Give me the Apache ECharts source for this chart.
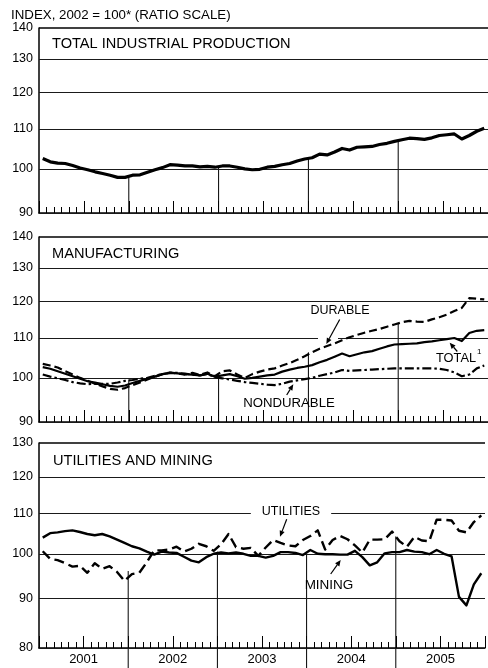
<!DOCTYPE html>
<html><head><meta charset="utf-8">
<script src="https://cdn.jsdelivr.net/npm/echarts@6/dist/echarts.min.js"></script>
<style>html,body{margin:0;padding:0;background:#fff}#c{width:488px;height:668px}</style>
</head><body><div id="c"></div>
<script>
// ---- data (monthly, Jan 2001 .. Dec 2005) ----
const years = ['2001', '2002', '2003', '2004', '2005'];
const yTicksTop = [90, 100, 110, 120, 130, 140];
const yTicksBottom = [80, 90, 100, 110, 120, 130];
const yearBounds = [12, 24, 36, 48];

const totalIP = [102.5,101.7,101.4,101.3,100.8,100.2,99.8,99.3,98.9,98.5,98.0,98.0,
  98.5,98.6,99.2,99.8,100.3,101.0,100.9,100.7,100.7,100.5,100.6,100.4,
  100.7,100.7,100.4,100.0,99.8,99.9,100.4,100.6,101.0,101.3,101.9,102.4,
  102.7,103.6,103.4,104.1,105.0,104.6,105.3,105.4,105.5,106.0,106.3,106.8,
  107.2,107.6,107.5,107.3,107.7,108.3,108.5,108.7,107.4,108.3,109.4,110.2];

const durable = [103.4,103.0,102.5,101.6,100.8,100.0,99.3,98.6,98.0,97.4,97.2,97.6,
  98.3,98.9,99.6,100.3,100.9,101.3,101.1,100.8,101.2,100.7,101.3,100.4,
  101.6,101.8,100.8,100.0,100.9,101.5,102.0,102.3,103.0,103.6,104.4,105.3,
  106.3,107.2,107.9,108.6,109.4,110.2,110.8,111.4,111.9,112.4,113.0,113.6,
  114.2,114.6,114.4,114.3,115.0,115.6,116.3,117.3,118.2,121.0,120.8,120.6];

const manufTotal = [102.6,102.2,101.6,101.0,100.4,99.8,99.2,98.9,98.5,98.1,97.9,98.2,
  98.8,99.3,99.8,100.3,100.9,101.2,101.1,100.9,100.8,100.6,101.0,100.3,
  100.6,100.9,100.4,99.8,100.0,100.3,100.6,100.8,101.5,102.0,102.4,102.7,
  103.1,103.8,104.4,105.2,106.0,105.3,105.8,106.3,106.6,107.2,107.8,108.3,
  108.4,108.5,108.6,108.9,109.1,109.4,109.7,110.0,109.2,111.3,111.9,112.1];

const nondurable = [100.8,100.3,99.9,99.5,99.0,98.7,98.5,98.6,98.6,98.6,98.9,99.3,
  99.5,99.8,100.0,100.5,100.9,101.2,101.2,101.0,100.8,100.6,100.9,100.2,
  99.9,99.6,99.3,99.0,98.8,98.6,98.4,98.3,98.6,99.1,99.4,99.7,
  100.0,100.5,100.9,101.3,101.9,101.7,101.8,101.9,102.0,102.1,102.2,102.3,
  102.3,102.3,102.3,102.3,102.3,102.2,101.9,101.3,100.4,100.8,102.3,103.0];

const utilities = [100.6,98.8,98.5,97.8,97.0,97.2,95.6,97.8,96.5,97.1,95.8,93.8,
  95.3,95.6,98.0,100.8,100.8,101.0,101.7,100.5,101.2,102.4,101.8,100.7,
  102.3,104.8,101.6,101.2,101.4,99.5,101.5,103.3,102.6,102.0,101.8,103.3,
  104.3,105.7,101.0,103.3,104.3,103.5,102.0,100.3,103.4,103.4,103.5,105.4,
  103.0,101.7,104.1,103.2,103.0,108.4,108.4,108.2,105.6,105.2,107.8,109.5];

const mining = [103.9,105.0,105.2,105.5,105.7,105.3,104.8,104.5,104.8,104.2,103.4,102.6,
  101.8,101.3,100.5,99.8,100.5,100.3,100.2,99.3,98.4,98.0,99.2,100.0,
  100.3,100.1,100.3,100.0,99.5,99.5,99.1,99.5,100.4,100.4,100.2,99.7,
  100.9,100.0,99.9,99.9,99.8,99.8,100.7,99.2,97.3,98.0,100.1,100.4,
  100.4,100.9,100.5,100.4,99.9,100.9,100.0,99.4,90.3,88.5,93.0,95.5];

const dropTopIP = [98.0, 100.4, 102.7, 107.0];
const dropTopMfg = [99.6, 100.7, 106.3, 113.9];
const dropTopUM = [96.0, 100.5, 99.8, 104.2];

// ---- chart ----
const FONT = "'Liberation Sans', Arial, sans-serif";
const chart = echarts.init(document.getElementById('c'), null, { renderer: 'canvas' });

const grids = [
  { left: 39, top: 28, width: 455, height: 185 },
  { left: 39, top: 237, width: 455, height: 185 },
  { left: 39, top: 443, width: 455, height: 205 }
];
const yRanges = [[90, 140], [90, 140], [80, 130]];
const tickSets = [yTicksTop, yTicksTop, yTicksBottom];
const dropSets = [dropTopIP, dropTopMfg, dropTopUM];
const dropExt = [0, 0, 20];

const toPts = arr => arr.map((v, i) => [i + 0.5, v]);

const xAxis = grids.map((g, i) => ({
  type: 'value', gridIndex: i, min: 0, max: 60, interval: 6,
  axisLine: { show: true, onZero: false, lineStyle: { color: '#000', width: 1.5 } },
  axisTick: { show: true, inside: true, length: 12, lineStyle: { color: '#000', width: 1 } },
  minorTick: { show: true, splitNumber: 6, length: 6, lineStyle: { color: '#000', width: 1 } },
  splitLine: { show: false }, minorSplitLine: { show: false },
  axisLabel: i === 2 ? {
    show: true, margin: 5, fontSize: 13, color: '#000', fontFamily: FONT,
    formatter: v => (v % 12 === 6 ? years[(v - 6) / 12] : '')
  } : { show: false }
}));

const yAxis = grids.map((g, i) => ({
  type: 'log', logBase: 10, gridIndex: i, min: yRanges[i][0], max: yRanges[i][1],
  axisLine: { show: true, lineStyle: { color: '#000', width: 1.5 } },
  axisTick: { show: false }, axisLabel: { show: false }, splitLine: { show: false }
}));

const series = [];
grids.forEach((g, i) => {
  const yMax = yRanges[i][1], yMin = yRanges[i][0];
  series.push({
    type: 'line', xAxisIndex: i, yAxisIndex: i, data: [], silent: true, z: 1,
    markLine: {
      silent: true, symbol: 'none', animation: false,
      lineStyle: { color: '#1a1a1a', width: 1, type: 'solid' },
      label: { show: true, position: 'start', distance: 6, color: '#000', fontSize: 12.5, fontFamily: FONT,
        formatter: p => String(p.value) },
      data: tickSets[i].map(t => {
        const d = { yAxis: t };
        if (t === yMax) d.lineStyle = { color: '#000', width: 1.5, type: 'solid' };
        return d;
      })
    }
  });
  series.push({
    type: 'custom', xAxisIndex: i, yAxisIndex: i, clip: false, z: 3, silent: true,
    data: yearBounds.map((b, k) => [b, dropSets[i][k]]),
    renderItem: (params, api) => {
      const top = api.coord([api.value(0), api.value(1)]);
      const bot = api.coord([api.value(0), yMin]);
      return { type: 'line', shape: { x1: top[0], y1: top[1], x2: bot[0], y2: bot[1] + dropExt[i] },
        style: { stroke: '#000', lineWidth: 1 } };
    }
  });
});

function lineSeries(idx, arr, width, dash) {
  return {
    type: 'line', xAxisIndex: idx, yAxisIndex: idx, data: toPts(arr), symbol: 'none',
    silent: true, z: 5, animation: false,
    lineStyle: { color: '#000', width: width, type: dash || 'solid', join: 'round', cap: 'butt' }
  };
}
series.push(lineSeries(0, totalIP, 3.2));
series.push(lineSeries(1, durable, 2.2, [8, 4]));
series.push(lineSeries(1, manufTotal, 2.2));
series.push(lineSeries(1, nondurable, 2.2, [9, 3, 2.5, 3]));
series.push(lineSeries(2, utilities, 2.4, [10, 5]));
series.push(lineSeries(2, mining, 2.4));

function txt(x, y, text, size, align, extra) {
  return { type: 'text', x: x, y: y, z: 100,
    style: Object.assign({ text: text, fontSize: size, fontFamily: FONT, fill: '#000',
      align: align || 'left', verticalAlign: 'middle' }, extra || {}) };
}
function arrow(x1, y1, x2, y2) {
  const dx = x2 - x1, dy = y2 - y1, L = Math.sqrt(dx * dx + dy * dy);
  const ux = dx / L, uy = dy / L, px = -uy, py = ux, hl = 6, hw = 2.6;
  const bx = x2 - ux * hl, by = y2 - uy * hl;
  return [
    { type: 'line', z: 101, shape: { x1: x1, y1: y1, x2: bx, y2: by }, style: { stroke: '#000', lineWidth: 1.2 } },
    { type: 'polygon', z: 101, shape: { points: [[x2, y2], [bx + px * hw, by + py * hw], [bx - px * hw, by - py * hw]] },
      style: { fill: '#000' } }
  ];
}

const graphic = [
  txt(11, 15.5, 'INDEX, 2002 = 100* (RATIO SCALE)', 13.3),
  txt(52, 44, 'TOTAL INDUSTRIAL PRODUCTION', 14.6),
  txt(52, 254, 'MANUFACTURING', 14.6),
  txt(53, 461, 'UTILITIES AND MINING', 14.6),
  { type: 'rect', z: 99, shape: { x: 318, y: 336, width: 20, height: 5 }, style: { fill: '#fff' } },
  txt(340, 311, 'DURABLE', 12.5, 'center'),
  txt(289, 403.5, 'NONDURABLE', 13.2, 'center'),
  txt(456, 358.5, 'TOTAL', 12.8, 'center'),
  txt(477, 352, '1', 8, 'left'),
  txt(291, 511.5, 'UTILITIES', 12.5, 'center', { backgroundColor: '#fff', padding: [2, 11] }),
  txt(329, 585.5, 'MINING', 13.5, 'center')
].concat(
  arrow(339.7, 319.5, 326.3, 344),
  arrow(286.7, 395, 293.3, 384.3),
  arrow(457.3, 351.5, 449.7, 342.7),
  arrow(286.7, 519.3, 280, 536.7),
  arrow(330.7, 574, 340.7, 560)
);

chart.setOption({
  animation: false,
  backgroundColor: '#fff',
  grid: grids,
  xAxis: xAxis,
  yAxis: yAxis,
  series: series,
  graphic: graphic
});
</script>
</body></html>
